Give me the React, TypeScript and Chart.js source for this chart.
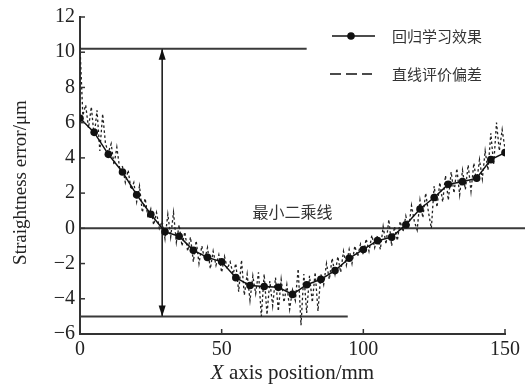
import React, { useEffect, useRef } from "react";
import { Chart, registerables } from "chart.js";
Chart.register(...registerables);

const X_MIN = 0;
const X_MAX = 150;
const X_STEP = 50;
const Y_MIN = -6;
const Y_MAX = 12;
const Y_STEP = 2;

const legendLabels = ["回归学习效果", "直线评价偏差"];

const regressionX = [0, 5, 10, 15, 20, 25, 30, 35, 40, 45, 50, 55, 60, 65, 70, 75, 80, 85, 90, 95, 100, 105, 110, 115, 120, 125, 130, 135, 140, 145, 150];
const regressionY = [6.25, 5.45, 4.2, 3.2, 1.9, 0.8, -0.2, -0.45, -1.25, -1.65, -1.9, -2.8, -3.25, -3.3, -3.35, -3.75, -3.2, -2.9, -2.4, -1.7, -1.2, -0.7, -0.5, 0.2, 1.1, 1.75, 2.5, 2.65, 2.85, 3.9, 4.3];

const traceStartX = 0;
const traceStepX = 1;
const traceY = [
  10.3, 6.4, 7.0, 5.7, 6.9, 5.2, 6.7, 4.4, 6.5, 4.8,
  4.3, 4.8, 3.6, 4.6, 3.4, 3.5, 2.6, 3.3, 2.2, 2.6,
  1.5, 2.4, 0.9, 1.7, 0.6, 1.1, 0.2, 0.9, 0.0, 0.4,
  -0.6, 0.8, -0.5, 0.9, -0.8, 0.2, -1.0, -0.2, -1.3, -0.5,
  -1.9, -0.7, -2.0, -1.0, -1.8, -1.1, -2.3, -1.3, -2.1, -1.5,
  -2.5, -1.6, -2.3, -1.9, -2.6, -2.0, -3.6, -1.8, -3.8, -2.6,
  -4.1, -2.7, -3.7, -2.5, -5.0, -2.6, -4.9, -3.0, -4.4, -2.8,
  -4.7, -2.9, -4.2, -3.2, -4.6, -3.5, -4.1, -2.3, -5.5, -2.6,
  -4.8, -2.7, -4.2, -2.5, -4.7, -2.6, -3.2, -2.0, -2.9, -1.7,
  -2.6, -1.6, -2.5, -1.3, -2.1, -1.2, -2.0, -1.0, -1.6, -0.9,
  -1.5, -0.6, -1.3, -0.4, -1.1, -0.4, -1.2, 0.1, -0.9, 0.5,
  -1.0, 0.1, -0.7, 0.4, -0.2, 0.7, 0.0, 1.3, 0.4, -0.1,
  1.6, 0.6, 2.0, 0.9, 0.0, 2.4, 1.2, 2.6, 1.5, 3.0,
  1.6, 3.2, 2.0, 3.4, 1.9, 3.3, 2.2, 3.6, 2.1, 3.7,
  2.6, 3.9, 2.8, 4.4, 3.3, 5.4, 3.6, 6.0, 4.4, 5.6,
  4.5,
];

const upperLimitY = 10.2;
const upperLineEndX = 80;
const lowerLimitY = -5;
const lowerLineEndX = 94.5;
const zeroLineY = 0;
const zeroLineEndX = 157.06;
const arrowX = 29;
const lsqLabel = "最小二乘线";
const lsqLabelX = 75;
const lsqLabelY = 0.95;
const xTitleItalic = "X";
const xTitleRest = " axis position/mm";
const yTitle = "Straightness error/μm";

const SERIF = "'Liberation Serif', 'Times New Roman', serif";
const CJK = "'Noto Sans CJK SC', sans-serif";

const decorPlugin = {
  id: "decor",
  afterDatasetsDraw(chart: any) {
    const { ctx, chartArea, scales } = chart;
    const xs = scales.x;
    const ys = scales.y;
    ctx.save();
    // inward ticks
    ctx.strokeStyle = "#333";
    ctx.lineWidth = 1.5;
    ys.ticks.forEach((t: any) => {
      const py = ys.getPixelForValue(t.value);
      ctx.beginPath();
      ctx.moveTo(chartArea.left, py);
      ctx.lineTo(chartArea.left + 5, py);
      ctx.stroke();
    });
    xs.ticks.forEach((t: any) => {
      const px = xs.getPixelForValue(t.value);
      ctx.beginPath();
      ctx.moveTo(px, chartArea.bottom);
      ctx.lineTo(px, chartArea.bottom - 5);
      ctx.stroke();
    });
    // arrow heads
    const ax = xs.getPixelForValue(arrowX);
    const top = ys.getPixelForValue(upperLimitY);
    const bot = ys.getPixelForValue(lowerLimitY);
    ctx.fillStyle = "#111";
    ctx.beginPath();
    ctx.moveTo(ax, top);
    ctx.lineTo(ax - 3.5, top + 11);
    ctx.lineTo(ax + 3.5, top + 11);
    ctx.closePath();
    ctx.fill();
    ctx.beginPath();
    ctx.moveTo(ax, bot);
    ctx.lineTo(ax - 3.5, bot - 11);
    ctx.lineTo(ax + 3.5, bot - 11);
    ctx.closePath();
    ctx.fill();
    // least squares label
    ctx.font = `16px ${CJK}`;
    ctx.fillStyle = "#333";
    ctx.textAlign = "center";
    ctx.textBaseline = "middle";
    ctx.fillText(lsqLabel, xs.getPixelForValue(lsqLabelX), ys.getPixelForValue(lsqLabelY));
    // legend
    const ds = chart.data.datasets;
    const lx = chartArea.right - 173;
    const ly0 = chartArea.top + 19;
    const ly1 = chartArea.top + 57;
    ctx.strokeStyle = "#111";
    ctx.lineWidth = 1.5;
    ctx.setLineDash([]);
    ctx.beginPath();
    ctx.moveTo(lx, ly0);
    ctx.lineTo(lx + 43, ly0);
    ctx.stroke();
    ctx.beginPath();
    ctx.arc(lx + 19, ly0, 3.8, 0, Math.PI * 2);
    ctx.fillStyle = "#111";
    ctx.fill();
    ctx.setLineDash([11, 5]);
    ctx.beginPath();
    ctx.moveTo(lx - 2, ly1);
    ctx.lineTo(lx + 40, ly1);
    ctx.stroke();
    ctx.setLineDash([]);
    ctx.font = `15px ${CJK}`;
    ctx.fillStyle = "#333";
    ctx.textAlign = "left";
    ctx.fillText(ds[0].label, lx + 60, ly0);
    ctx.fillText(ds[1].label, lx + 60, ly1);
    // x title
    ctx.fillStyle = "#222";
    ctx.textBaseline = "middle";
    ctx.font = `italic 21px ${SERIF}`;
    const wI = ctx.measureText(xTitleItalic).width;
    ctx.font = `21px ${SERIF}`;
    const wR = ctx.measureText(xTitleRest).width;
    const cx = (chartArea.left + chartArea.right) / 2;
    const tx = cx - (wI + wR) / 2;
    const ty = chartArea.bottom + 39;
    ctx.font = `italic 21px ${SERIF}`;
    ctx.fillText(xTitleItalic, tx, ty);
    ctx.font = `21px ${SERIF}`;
    ctx.fillText(xTitleRest, tx + wI, ty);
    // y title
    ctx.font = `19px ${SERIF}`;
    ctx.translate(21, (chartArea.top + chartArea.bottom) / 2 + 7);
    ctx.rotate(-Math.PI / 2);
    ctx.textAlign = "center";
    ctx.fillText(yTitle, 0, 0);
    ctx.restore();
  },
};

export default function App() {
  const ref = useRef<HTMLCanvasElement>(null);
  useEffect(() => {
    if (!ref.current) return;
    const regression = regressionX.map((x, i) => ({ x, y: regressionY[i] }));
    const trace = traceY.map((y, i) => ({ x: traceStartX + i * traceStepX, y }));
    const refLine = (pts: { x: number; y: number }[], clip = true) => ({
      label: "",
      data: pts,
      borderColor: "#3a3a3a",
      borderWidth: 2,
      pointRadius: 0,
      showLine: true,
      clip: clip ? undefined : false,
    });
    const chart = new Chart(ref.current, {
      type: "scatter",
      data: {
        datasets: [
          {
            label: legendLabels[0],
            data: regression,
            showLine: true,
            borderColor: "#111",
            borderWidth: 1.5,
            pointRadius: 3.8,
            pointBackgroundColor: "#111",
            pointBorderWidth: 0,
          },
          {
            label: legendLabels[1],
            data: trace,
            showLine: true,
            borderColor: "#222",
            borderWidth: 1.3,
            borderDash: [2.5, 2.5],
            pointRadius: 0,
          },
          refLine([{ x: 0, y: upperLimitY }, { x: upperLineEndX, y: upperLimitY }]),
          refLine([{ x: 0, y: lowerLimitY }, { x: lowerLineEndX, y: lowerLimitY }]),
          refLine([{ x: 0, y: zeroLineY }, { x: zeroLineEndX, y: zeroLineY }], false),
          {
            label: "",
            data: [{ x: arrowX, y: upperLimitY }, { x: arrowX, y: lowerLimitY }],
            showLine: true,
            borderColor: "#111",
            borderWidth: 1.5,
            pointRadius: 0,
          },
        ] as any,
      },
      options: {
        animation: false,
        responsive: false,
        devicePixelRatio: 1,
        layout: { padding: { top: 16, right: 20, left: 0, bottom: 0 } },
        plugins: { legend: { display: false }, tooltip: { enabled: false } },
        scales: {
          x: {
            type: "linear",
            min: X_MIN,
            max: X_MAX,
            afterFit: (s: any) => {
              s.height = 53;
            },
            ticks: {
              stepSize: X_STEP,
              padding: 4,
              color: "#222",
              font: { family: SERIF, size: 20 },
              maxRotation: 0,
            },
            grid: { display: false, drawTicks: false, tickLength: 0 },
            border: { display: true, color: "#333", width: 2 },
          },
          y: {
            type: "linear",
            min: Y_MIN,
            max: Y_MAX,
            afterFit: (s: any) => {
              s.width = 80;
            },
            ticks: {
              stepSize: Y_STEP,
              padding: 5,
              color: "#222",
              font: { family: SERIF, size: 20 },
              callback: (v: any) => String(v).replace("-", "\u2212"),
            },
            grid: { display: false, drawTicks: false, tickLength: 0 },
            border: { display: true, color: "#333", width: 2 },
          },
        },
      } as any,
      plugins: [decorPlugin],
    });
    return () => chart.destroy();
  }, []);
  return (
    <div style={{ position: "absolute", left: 0, top: 0, width: 525, height: 387, background: "#fff" }}>
      <canvas ref={ref} width={525} height={387} />
    </div>
  );
}
